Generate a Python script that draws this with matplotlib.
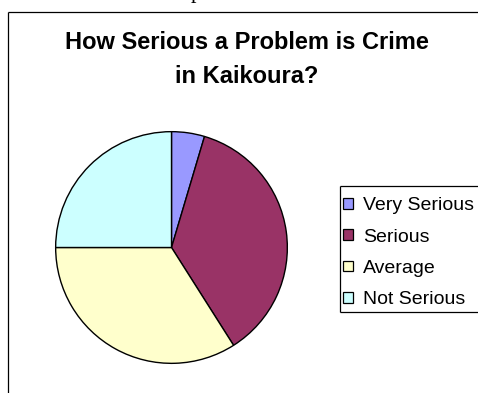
import matplotlib.pyplot as plt
from matplotlib.lines import Line2D

# survey answers, percent of respondents
labels = ["Very Serious", "Serious", "Average", "Not Serious"]
shares = [4.6, 36.4, 34.0, 25.0]
colors = ["#9999FF", "#993366", "#FFFFCC", "#CCFFFF"]

title = "How Serious a Problem is Crime\nin Kaikoura?"

W, H = 478, 393
fig = plt.figure(figsize=(W / 100, H / 100), dpi=100)
fig.patch.set_facecolor("white")


def hline(x0, x1, y):
    fig.add_artist(Line2D([x0 / W, x1 / W], [1 - y / H, 1 - y / H], color="black",
                          lw=0.9, solid_capstyle="butt"))


def vline(x, y0, y1):
    fig.add_artist(Line2D([x / W, x / W], [1 - y0 / H, 1 - y1 / H], color="black",
                          lw=0.9, solid_capstyle="butt"))


# chart area border (only the top and left edges fall inside the image)
hline(8, W - 0.2, 11.5)
vline(8, 11.5, H)

# tail of a letter from the page above
fig.text(191 / W, 1 + 1.8 / H, "p", family="Liberation Serif", fontsize=16,
         ha="left", va="baseline")

fig.text(246.5 / W, 1 - 59.5 / H, title, family="Liberation Sans", fontsize=17,
         fontweight="bold", ha="center", va="center", linespacing=1.6)

# pie, centred at (171.5, 247.5) px with radius 117 px
cx, cy, r = 171.5, 247.5, 117
ax = fig.add_axes([(cx - r) / W, (H - cy - r) / H, 2 * r / W, 2 * r / H])
wedges, _ = ax.pie(shares, colors=colors, startangle=90, counterclock=False,
                   radius=1.0, wedgeprops=dict(edgecolor="black", linewidth=1.0))
ax.set_xlim(-1.01, 1.01)
ax.set_ylim(-1.01, 1.01)
ax.set_aspect("equal")
ax.axis("off")

# legend box runs past the right edge: draw its top, left and bottom sides
vline(340, 186, 312)
hline(340, W - 0.2, 186)
hline(340, W - 0.2, 312)

leg = fig.legend(wedges, labels, loc="upper left",
                 bbox_to_anchor=(343 / W, 1 - 197.5 / H),
                 prop=dict(family="Liberation Sans", size=14),
                 frameon=False, borderpad=0, handlelength=0.49, handleheight=0.49,
                 handletextpad=0.54, labelspacing=0.73, borderaxespad=0)
for h in leg.legend_handles:
    h.set_edgecolor("black")
    h.set_linewidth(0.9)

fig.savefig("out.png", dpi=100)
